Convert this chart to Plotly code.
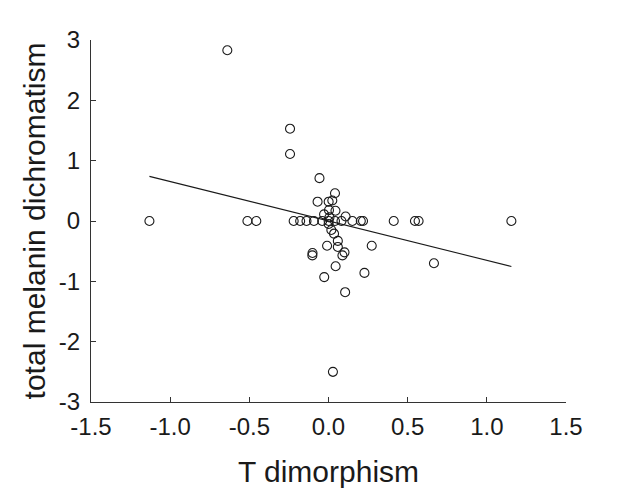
import plotly.graph_objects as go
import numpy as np

# T dimorphism (x) and total melanin dichromatism (y)
t_dimorphism = [
    -1.131, -0.512, -0.456, -0.220, -0.179, -0.139, -0.092, -0.040, 0.001, 0.041,
    0.082, 0.151, 0.204, 0.218, 0.412, 0.546, 0.569, 1.155,
    -0.639, -0.243, -0.243, -0.057, 0.041, -0.069, 0.001, 0.024, 0.003, 0.044,
    -0.028, 0.006, 0.108, 0.001, 0.018, 0.035, 0.059, -0.009, 0.059, -0.101,
    -0.102, 0.101, 0.088, 0.273, 0.045, -0.027, 0.227, 0.666, 0.105, 0.028,
]
melanin_dichromatism = [
    0, 0, 0, 0, 0, 0, 0, 0, 0, 0,
    0, 0, 0, 0, 0, 0, 0, 0,
    2.83, 1.53, 1.11, 0.71, 0.46, 0.32, 0.32, 0.34, 0.18, 0.17,
    0.11, 0.06, 0.075, -0.05, -0.15, -0.21, -0.33, -0.41, -0.43, -0.53,
    -0.57, -0.52, -0.57, -0.41, -0.75, -0.93, -0.86, -0.70, -1.18, -2.50,
]

fit_slope = -0.653
fit_intercept = 0.001

x_tickvals = [-1.5, -1.0, -0.5, 0.0, 0.5, 1.0, 1.5]
x_ticktext = ["-1.5", "-1.0", "-0.5", "0.0", "0.5", "1.0", "1.5"]
y_tickvals = [-3, -2, -1, 0, 1, 2, 3]
y_ticktext = ["-3", "-2", "-1", "0", "1", "2", "3"]

fit_x = np.array([min(t_dimorphism), max(t_dimorphism)])
fit_y = fit_slope * fit_x + fit_intercept

fig = go.Figure()
fig.add_trace(go.Scatter(
    x=fit_x, y=fit_y, mode="lines",
    line=dict(color="#1a1a1a", width=1.1),
    showlegend=False, hoverinfo="skip",
))
fig.add_trace(go.Scatter(
    x=t_dimorphism, y=melanin_dichromatism, mode="markers",
    marker=dict(symbol="circle-open", size=9, color="#1a1a1a",
                line=dict(width=1.1, color="#1a1a1a")),
    showlegend=False,
))

font_family = "Liberation Sans, Arial, sans-serif"
fig.update_layout(
    width=629, height=493,
    margin=dict(l=91, r=63, t=40, b=91, autoexpand=False),
    paper_bgcolor="white", plot_bgcolor="white",
    font=dict(family=font_family, color="#1a1a1a"),
    xaxis=dict(
        range=[-1.5, 1.5], tickvals=x_tickvals, ticktext=x_ticktext,
        showgrid=False, zeroline=False, showline=True, linecolor="#333333", linewidth=1,
        ticks="inside", ticklen=5, tickcolor="#333333",
        tickfont=dict(size=24, color="#1a1a1a"),
        ticklabelstandoff=3,
        title=dict(text="T dimorphism", font=dict(size=30, color="#1a1a1a"), standoff=22),
        automargin=False,
    ),
    yaxis=dict(
        range=[-3, 3], tickvals=y_tickvals, ticktext=y_ticktext,
        showgrid=False, zeroline=False, showline=True, linecolor="#333333", linewidth=1,
        ticks="inside", ticklen=5, tickcolor="#333333",
        tickfont=dict(size=24, color="#1a1a1a"),
        ticklabelstandoff=5,
        title=dict(text="total melanin dichromatism", font=dict(size=30, color="#1a1a1a"), standoff=4),
        automargin=False,
    ),
)

fig.write_html("out.html")
